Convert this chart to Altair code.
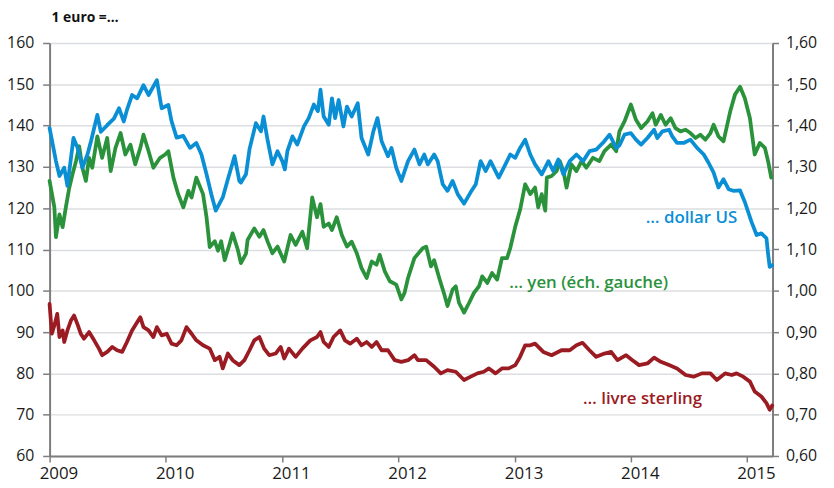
import altair as alt
import pandas as pd

# ---- data: time in years since 2009-01-01 ----
usd_years = [0.000, 0.057, 0.085, 0.128, 0.156, 0.207, 0.241, 0.284, 0.327, 0.356,
             0.412, 0.441, 0.497, 0.554, 0.597, 0.639, 0.668, 0.710, 0.753, 0.810,
             0.853, 0.923, 0.966, 1.023, 1.051, 1.094, 1.151, 1.208, 1.264, 1.307,
             1.350, 1.392, 1.430, 1.492, 1.535, 1.592, 1.634, 1.648, 1.691, 1.720,
             1.776, 1.818, 1.841, 1.876, 1.918, 1.961, 2.003, 2.026, 2.046, 2.089,
             2.131, 2.188, 2.231, 2.274, 2.310, 2.330, 2.359, 2.402, 2.430, 2.458,
             2.487, 2.529, 2.558, 2.600, 2.651, 2.685, 2.743, 2.785, 2.822, 2.856,
             2.913, 2.941, 2.984, 3.026, 3.084, 3.140, 3.182, 3.225, 3.254, 3.310,
             3.339, 3.382, 3.424, 3.467, 3.510, 3.566, 3.623, 3.666, 3.708, 3.751,
             3.794, 3.864, 3.922, 3.964, 4.007, 4.049, 4.092, 4.135, 4.177, 4.234,
             4.291, 4.333, 4.376, 4.419, 4.476, 4.533, 4.589, 4.646, 4.703, 4.760,
             4.817, 4.874, 4.902, 4.945, 5.002, 5.044, 5.087, 5.143, 5.200, 5.228,
             5.271, 5.328, 5.356, 5.399, 5.456, 5.513, 5.569, 5.627, 5.669, 5.712,
             5.754, 5.797, 5.840, 5.882, 5.939, 5.982, 6.038, 6.082, 6.124, 6.166,
             6.180, 6.195, 6.215]
usd_rate = [1.394, 1.314, 1.278, 1.298, 1.254, 1.370, 1.346, 1.298, 1.330, 1.362,
            1.426, 1.385, 1.401, 1.417, 1.442, 1.410, 1.438, 1.474, 1.466, 1.498,
            1.474, 1.510, 1.442, 1.450, 1.411, 1.371, 1.375, 1.346, 1.358, 1.330,
            1.282, 1.234, 1.194, 1.226, 1.270, 1.326, 1.266, 1.262, 1.282, 1.343,
            1.406, 1.386, 1.422, 1.364, 1.306, 1.338, 1.314, 1.294, 1.338, 1.374,
            1.354, 1.398, 1.418, 1.451, 1.435, 1.487, 1.422, 1.402, 1.466, 1.418,
            1.462, 1.398, 1.446, 1.422, 1.454, 1.370, 1.330, 1.386, 1.418, 1.362,
            1.326, 1.346, 1.298, 1.266, 1.314, 1.342, 1.306, 1.330, 1.306, 1.330,
            1.314, 1.258, 1.242, 1.266, 1.234, 1.211, 1.239, 1.258, 1.314, 1.290,
            1.314, 1.274, 1.306, 1.330, 1.322, 1.346, 1.366, 1.330, 1.306, 1.282,
            1.314, 1.290, 1.318, 1.282, 1.314, 1.330, 1.314, 1.338, 1.342, 1.358,
            1.378, 1.346, 1.352, 1.378, 1.382, 1.366, 1.354, 1.370, 1.390, 1.370,
            1.386, 1.390, 1.374, 1.358, 1.358, 1.366, 1.346, 1.330, 1.310, 1.286,
            1.250, 1.270, 1.246, 1.242, 1.243, 1.215, 1.167, 1.135, 1.139, 1.127,
            1.090, 1.058, 1.062]

jpy_years = [0.000, 0.043, 0.057, 0.085, 0.113, 0.142, 0.171, 0.199, 0.228, 0.256,
             0.284, 0.313, 0.341, 0.369, 0.412, 0.454, 0.497, 0.526, 0.569, 0.611,
             0.654, 0.697, 0.739, 0.782, 0.810, 0.853, 0.895, 0.952, 0.995, 1.023,
             1.066, 1.108, 1.151, 1.194, 1.222, 1.264, 1.321, 1.350, 1.379, 1.421,
             1.449, 1.477, 1.506, 1.549, 1.577, 1.620, 1.648, 1.691, 1.705, 1.762,
             1.805, 1.841, 1.876, 1.918, 1.961, 2.018, 2.074, 2.117, 2.174, 2.217,
             2.259, 2.302, 2.330, 2.359, 2.402, 2.430, 2.472, 2.515, 2.558, 2.600,
             2.643, 2.685, 2.728, 2.771, 2.813, 2.841, 2.884, 2.927, 2.984, 3.026,
             3.055, 3.084, 3.140, 3.211, 3.240, 3.282, 3.310, 3.353, 3.396, 3.424,
             3.467, 3.495, 3.523, 3.566, 3.609, 3.651, 3.694, 3.723, 3.766, 3.808,
             3.851, 3.893, 3.936, 3.964, 4.007, 4.049, 4.092, 4.135, 4.177, 4.205,
             4.234, 4.263, 4.277, 4.320, 4.362, 4.390, 4.419, 4.447, 4.490, 4.533,
             4.575, 4.618, 4.674, 4.731, 4.774, 4.831, 4.874, 4.902, 4.945, 5.002,
             5.044, 5.087, 5.143, 5.186, 5.215, 5.257, 5.300, 5.343, 5.385, 5.428,
             5.471, 5.513, 5.556, 5.598, 5.641, 5.684, 5.712, 5.754, 5.797, 5.854,
             5.897, 5.939, 5.982, 6.025, 6.067, 6.110, 6.153, 6.181, 6.209]
jpy_rate = [126.6, 120.2, 113.0, 118.5, 115.4, 120.2, 125.0, 128.2, 131.4, 135.0,
            129.8, 126.6, 132.2, 129.8, 137.4, 132.2, 137.0, 129.0, 134.6, 138.2,
            133.0, 135.4, 130.6, 134.6, 137.8, 133.8, 129.8, 132.2, 133.0, 133.8,
            127.4, 123.4, 120.2, 124.2, 122.6, 127.4, 123.4, 117.8, 110.6, 112.0,
            109.7, 112.0, 107.4, 111.2, 113.9, 110.0, 106.7, 109.0, 112.3, 115.1,
            113.1, 114.7, 111.9, 109.1, 110.7, 107.1, 113.5, 111.1, 114.3, 110.3,
            122.6, 117.8, 121.0, 115.5, 116.3, 114.7, 117.8, 113.5, 110.7, 111.9,
            109.1, 105.5, 103.1, 107.1, 106.3, 108.7, 104.7, 102.3, 101.5, 97.9,
            99.5, 103.1, 107.9, 110.3, 110.7, 105.9, 107.4, 103.1, 99.1, 96.3,
            100.3, 101.1, 97.1, 94.7, 97.1, 99.5, 101.1, 103.5, 101.9, 104.3,
            102.7, 107.9, 107.9, 110.3, 115.6, 119.6, 125.8, 123.4, 125.0, 120.2,
            123.4, 119.4, 127.4, 127.8, 129.0, 131.4, 129.0, 125.0, 130.6, 129.0,
            131.4, 129.8, 132.2, 131.4, 133.8, 135.4, 133.8, 138.6, 141.0, 145.1,
            141.4, 139.4, 141.0, 143.0, 140.2, 142.6, 140.2, 141.8, 139.4, 138.6,
            139.0, 138.2, 137.0, 137.8, 136.6, 138.2, 140.2, 137.4, 136.2, 143.4,
            147.5, 149.4, 146.6, 141.8, 133.0, 135.8, 134.6, 131.4, 127.4]

gbp_years = [0.000, 0.020, 0.043, 0.066, 0.085, 0.113, 0.128, 0.156, 0.185, 0.213,
             0.241, 0.270, 0.298, 0.341, 0.384, 0.426, 0.454, 0.497, 0.540, 0.582,
             0.625, 0.668, 0.710, 0.753, 0.782, 0.810, 0.853, 0.895, 0.923, 0.966,
             1.009, 1.051, 1.094, 1.136, 1.179, 1.222, 1.264, 1.321, 1.379, 1.421,
             1.464, 1.492, 1.535, 1.577, 1.634, 1.677, 1.720, 1.762, 1.805, 1.847,
             1.890, 1.946, 1.989, 2.018, 2.061, 2.117, 2.174, 2.245, 2.302, 2.330,
             2.359, 2.402, 2.444, 2.500, 2.543, 2.586, 2.643, 2.685, 2.728, 2.771,
             2.813, 2.856, 2.913, 2.969, 3.026, 3.084, 3.140, 3.169, 3.240, 3.310,
             3.367, 3.424, 3.495, 3.566, 3.623, 3.680, 3.737, 3.779, 3.836, 3.893,
             3.950, 4.007, 4.049, 4.092, 4.135, 4.177, 4.248, 4.320, 4.405, 4.476,
             4.533, 4.584, 4.646, 4.703, 4.774, 4.831, 4.887, 4.959, 5.015, 5.072,
             5.143, 5.200, 5.257, 5.328, 5.399, 5.471, 5.541, 5.612, 5.684, 5.740,
             5.812, 5.868, 5.910, 5.968, 6.025, 6.067, 6.124, 6.166, 6.195, 6.215]
gbp_rate = [0.968, 0.896, 0.916, 0.944, 0.888, 0.904, 0.876, 0.904, 0.928, 0.940,
            0.918, 0.896, 0.884, 0.900, 0.880, 0.860, 0.844, 0.852, 0.864, 0.856,
            0.852, 0.876, 0.904, 0.924, 0.936, 0.912, 0.904, 0.888, 0.912, 0.892,
            0.896, 0.872, 0.868, 0.880, 0.912, 0.896, 0.880, 0.868, 0.860, 0.832,
            0.840, 0.812, 0.848, 0.832, 0.820, 0.832, 0.856, 0.880, 0.888, 0.860,
            0.844, 0.848, 0.864, 0.836, 0.860, 0.840, 0.860, 0.880, 0.888, 0.900,
            0.876, 0.864, 0.888, 0.904, 0.880, 0.872, 0.884, 0.868, 0.876, 0.864,
            0.876, 0.856, 0.856, 0.832, 0.828, 0.832, 0.844, 0.832, 0.832, 0.816,
            0.800, 0.808, 0.804, 0.784, 0.792, 0.800, 0.804, 0.812, 0.800, 0.812,
            0.812, 0.820, 0.840, 0.868, 0.868, 0.872, 0.852, 0.844, 0.856, 0.856,
            0.868, 0.874, 0.856, 0.840, 0.848, 0.852, 0.832, 0.844, 0.832, 0.820,
            0.824, 0.838, 0.828, 0.820, 0.812, 0.796, 0.792, 0.800, 0.800, 0.784,
            0.800, 0.796, 0.800, 0.792, 0.780, 0.756, 0.744, 0.728, 0.712, 0.722]

year_ticks = [2009, 2010, 2011, 2012, 2013, 2014, 2015]
left_ticks = [60, 70, 80, 90, 100, 110, 120, 130, 140, 150, 160]
right_ticks = [0.6, 0.7, 0.8, 0.9, 1.0, 1.1, 1.2, 1.3, 1.4, 1.5, 1.6]

label_text = ["… dollar US", "… yen (éch. gauche)", "… livre sterling"]
label_years = [5.915, 3.955, 4.589]
label_values = [1.175, 101.9, 0.7375]

BLUE = "#0a8fd5"
GREEN = "#2b923c"
RED = "#9b1b23"
FONT = "Open Sans"


def to_dates(offsets):
    base = pd.Timestamp("2009-01-01")
    return [(base + pd.Timedelta(days=o * 365.25)).normalize() for o in offsets]


usd_df = pd.DataFrame({"date": to_dates(usd_years), "rate": usd_rate})
jpy_df = pd.DataFrame({"date": to_dates(jpy_years), "rate": jpy_rate})
gbp_df = pd.DataFrame({"date": to_dates(gbp_years), "rate": gbp_rate})
lab_df = pd.DataFrame({"date": to_dates(label_years), "rate": label_values, "text": label_text})

AXIS_GRAY = "#7d7d7d"

x_enc = alt.X(
    "date:T",
    scale=alt.Scale(domain=[alt.DateTime(year=2009, month=1, date=1),
                            alt.DateTime(year=2015, month=3, date=22)]),
    axis=alt.Axis(values=[alt.DateTime(year=y, month=1, date=1) for y in year_ticks],
                  format="%Y", title=None, grid=False, labelFlush=False, labelOverlap=False,
                  labelOffset=9, labelFont=FONT, labelFontSize=17, labelColor="#1a1a1a",
                  labelPadding=4, domainColor=AXIS_GRAY, domainWidth=2,
                  tickColor=AXIS_GRAY, tickWidth=1.5, tickSize=6),
)

y_left = alt.Y(
    "rate:Q",
    scale=alt.Scale(domain=[60, 160], nice=False, zero=False),
    axis=alt.Axis(orient="left", values=left_ticks, title=None, grid=True,
                  gridColor="#dcdee1", gridWidth=1.5, labelFont=FONT, labelFontSize=16,
                  labelColor="#1a1a1a", labelPadding=9, domainColor=AXIS_GRAY,
                  domainWidth=2, tickColor=AXIS_GRAY, tickWidth=1.5, tickSize=7),
)

y_right = alt.Y(
    "rate:Q",
    scale=alt.Scale(domain=[0.6, 1.6], nice=False, zero=False),
    axis=alt.Axis(orient="right", values=right_ticks, title=None, grid=False,
                  labelExpr="replace(format(datum.value, '.2f'), '.', ',')",
                  labelFont=FONT, labelFontSize=16, labelColor="#1a1a1a", labelPadding=7,
                  domainColor=AXIS_GRAY, domainWidth=2, tickColor=AXIS_GRAY,
                  tickWidth=1.5, tickSize=6),
)

line_kw = dict(strokeWidth=3.8, strokeJoin="round", strokeCap="round")
text_kw = dict(font=FONT, fontSize=17, fontWeight=600, baseline="middle")

usd_line = alt.Chart(usd_df).mark_line(color=BLUE, **line_kw).encode(x=x_enc, y=y_right)
gbp_line = alt.Chart(gbp_df).mark_line(color=RED, **line_kw).encode(x=x_enc, y=y_right)
usd_text = alt.Chart(lab_df).transform_filter(alt.datum.text == label_text[0]).mark_text(
    color=BLUE, align="right", **text_kw).encode(x=x_enc, y=y_right, text="text:N")
gbp_text = alt.Chart(lab_df).transform_filter(alt.datum.text == label_text[2]).mark_text(
    color=RED, align="left", **text_kw).encode(x=x_enc, y=y_right, text="text:N")

jpy_line = alt.Chart(jpy_df).mark_line(color=GREEN, **line_kw).encode(x=x_enc, y=y_left)
jpy_text = alt.Chart(lab_df).transform_filter(alt.datum.text == label_text[1]).mark_text(
    color=GREEN, align="left", **text_kw).encode(x=x_enc, y=y_left, text="text:N")

left_layer = alt.layer(jpy_line, jpy_text)
right_layer = alt.layer(usd_line, gbp_line, usd_text, gbp_text)

chart = (
    alt.layer(left_layer, right_layer)
    .resolve_scale(y="independent")
    .properties(
        width=730,
        height=417,
        autosize=alt.AutoSizeParams(type="none"),
        padding={"left": 42, "top": 33, "right": 54, "bottom": 30},
        title=alt.TitleParams("1 euro =…", anchor="start", frame="group", font=FONT,
                              fontSize=14, fontWeight="bold", color="#111111",
                              offset=10, dx=2),
    )
    .configure_view(fill="#f1f2f4", stroke=None)
    .configure(background="white")
)

chart.save("out.html", embed_options={"renderer": "svg", "actions": False})
